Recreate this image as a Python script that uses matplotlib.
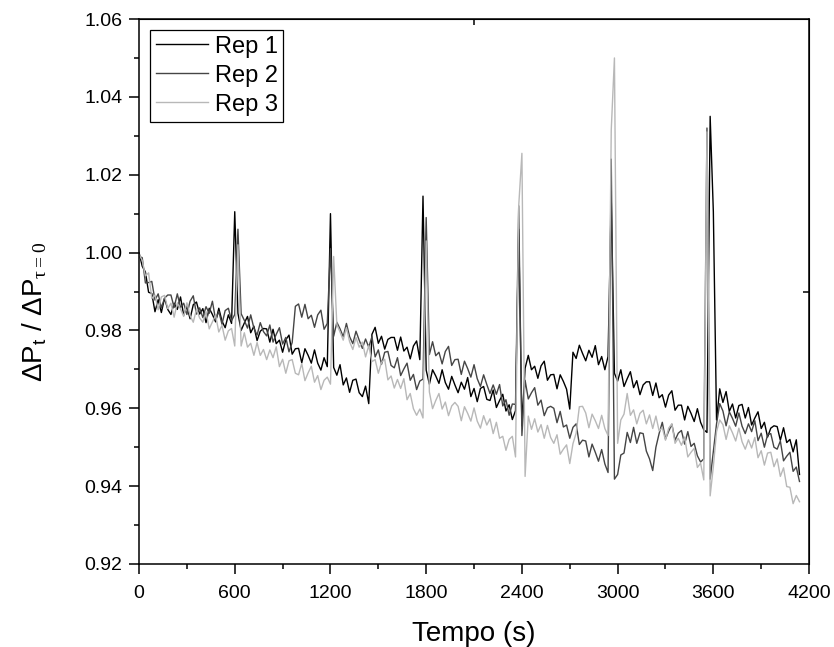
import numpy as np
import matplotlib
matplotlib.use('Agg')
import matplotlib.pyplot as plt

plt.rcParams['font.family'] = ['Liberation Sans', 'DejaVu Sans']
plt.rcParams['mathtext.fontset'] = 'custom'
plt.rcParams['mathtext.rm'] = 'Liberation Sans'
plt.rcParams['mathtext.it'] = 'Liberation Sans:italic'
plt.rcParams['mathtext.sf'] = 'Liberation Serif'

# time axis (s), one reading every 20 s
tempo = np.arange(0, 4141, 20)

rep1 = [
    1.0000, 0.9965, 0.9950, 0.9898, 0.9895, 0.9848, 0.9879, 0.9846, 0.9883, 0.9854,
    0.9841, 0.9870, 0.9854, 0.9886, 0.9839, 0.9862, 0.9830, 0.9866, 0.9873, 0.9842,
    0.9856, 0.9820, 0.9857, 0.9841, 0.9822, 0.9857, 0.9824, 0.9807, 0.9840, 0.9818,
    1.0105, 0.9844, 0.9800, 0.9819, 0.9836, 0.9794, 0.9811, 0.9774, 0.9798, 0.9805,
    0.9804, 0.9770, 0.9803, 0.9766, 0.9775, 0.9744, 0.9776, 0.9788, 0.9739, 0.9753,
    0.9754, 0.9717, 0.9753, 0.9736, 0.9716, 0.9750, 0.9716, 0.9698, 0.9730, 0.9707,
    1.0100, 0.9705, 0.9685, 0.9712, 0.9660, 0.9678, 0.9641, 0.9672, 0.9675, 0.9640,
    0.9630, 0.9657, 0.9612, 0.9790, 0.9808, 0.9767, 0.9785, 0.9752, 0.9777, 0.9782,
    0.9782, 0.9749, 0.9783, 0.9747, 0.9757, 0.9727, 0.9760, 0.9773, 0.9725, 1.0145,
    0.9698, 0.9662, 0.9699, 0.9683, 0.9664, 0.9699, 0.9666, 0.9649, 0.9682, 0.9660,
    0.9640, 0.9667, 0.9649, 0.9679, 0.9630, 0.9651, 0.9617, 0.9651, 0.9656, 0.9623,
    0.9620, 0.9647, 0.9602, 0.9620, 0.9636, 0.9593, 0.9609, 0.9571, 0.9594, 1.0060,
    0.9555, 0.9703, 0.9736, 0.9699, 0.9708, 0.9677, 0.9709, 0.9721, 0.9672, 0.9686,
    0.9687, 0.9650, 0.9686, 0.9669, 0.9649, 0.9598, 0.9744, 0.9728, 0.9762, 0.9741,
    0.9722, 0.9749, 0.9731, 0.9761, 0.9712, 0.9733, 0.9699, 0.9733, 1.0140, 0.9690,
    0.9670, 0.9699, 0.9656, 0.9676, 0.9694, 0.9653, 0.9671, 0.9635, 0.9660, 0.9668,
    0.9668, 0.9633, 0.9665, 0.9627, 0.9635, 0.9603, 0.9634, 0.9645, 0.9595, 0.9608,
    0.9608, 0.9570, 0.9605, 0.9587, 0.9566, 0.9599, 0.9564, 0.9545, 0.9538, 1.0350,
    1.0105, 0.9570, 0.9650, 0.9615, 0.9643, 0.9592, 0.9611, 0.9575, 0.9607, 0.9610,
    0.9575, 0.9602, 0.9557, 0.9575, 0.9591, 0.9548, 0.9564, 0.9526, 0.9549, 0.9555,
    0.9553, 0.9518, 0.9550, 0.9512, 0.9520, 0.9488, 0.9519, 0.9430]

rep2 = [
    0.9990, 0.9987, 0.9922, 0.9923, 0.9926, 0.9878, 0.9894, 0.9858, 0.9883, 0.9891,
    0.9891, 0.9859, 0.9894, 0.9859, 0.9870, 0.9841, 0.9875, 0.9889, 0.9842, 0.9858,
    0.9833, 0.9861, 0.9844, 0.9875, 0.9827, 0.9849, 0.9816, 0.9851, 0.9857, 0.9825,
    0.9841, 1.0060, 0.9843, 0.9826, 0.9806, 0.9840, 0.9806, 0.9788, 0.9820, 0.9797,
    0.9786, 0.9814, 0.9770, 0.9790, 0.9807, 0.9765, 0.9782, 0.9745, 0.9769, 0.9862,
    0.9868, 0.9834, 0.9867, 0.9830, 0.9839, 0.9808, 0.9840, 0.9852, 0.9803, 0.9818,
    1.0010, 0.9785, 0.9821, 0.9804, 0.9784, 0.9818, 0.9784, 0.9766, 0.9798, 0.9775,
    0.9754, 0.9778, 0.9757, 0.9784, 0.9732, 0.9750, 0.9713, 0.9744, 0.9746, 0.9710,
    0.9704, 0.9730, 0.9684, 0.9701, 0.9716, 0.9672, 0.9687, 0.9648, 0.9670, 0.9675,
    1.0090, 0.9738, 0.9771, 0.9735, 0.9744, 0.9714, 0.9746, 0.9759, 0.9710, 0.9725,
    0.9726, 0.9687, 0.9721, 0.9702, 0.9680, 0.9712, 0.9676, 0.9656, 0.9686, 0.9661,
    0.9638, 0.9660, 0.9636, 0.9661, 0.9606, 0.9622, 0.9582, 0.9611, 0.9610, 1.0120,
    0.9530, 0.9672, 0.9624, 0.9640, 0.9653, 0.9608, 0.9621, 0.9581, 0.9601, 0.9605,
    0.9600, 0.9563, 0.9592, 0.9552, 0.9557, 0.9523, 0.9551, 0.9560, 0.9507, 0.9518,
    0.9516, 0.9475, 0.9508, 0.9487, 0.9464, 0.9494, 0.9457, 0.9435, 1.0240, 0.9418,
    0.9430, 0.9480, 0.9485, 0.9538, 0.9512, 0.9551, 0.9510, 0.9537, 0.9535, 0.9490,
    0.9470, 0.9440, 0.9500, 0.9535, 0.9564, 0.9521, 0.9541, 0.9559, 0.9518, 0.9536,
    0.9543, 0.9508, 0.9540, 0.9502, 0.9510, 0.9478, 0.9462, 0.9470, 1.0320, 0.9418,
    0.9490, 0.9560, 0.9612, 0.9593, 0.9555, 0.9591, 0.9574, 0.9554, 0.9588, 0.9554,
    0.9535, 0.9560, 0.9540, 0.9568, 0.9517, 0.9536, 0.9500, 0.9532, 0.9535, 0.9500,
    0.9495, 0.9516, 0.9465, 0.9477, 0.9487, 0.9438, 0.9449, 0.9412]

rep3 = [
    0.9995, 0.9980, 0.9940, 0.9948, 0.9882, 0.9891, 0.9853, 0.9886, 0.9890, 0.9856,
    0.9870, 0.9834, 0.9871, 0.9855, 0.9836, 0.9871, 0.9838, 0.9821, 0.9854, 0.9832,
    0.9821, 0.9848, 0.9804, 0.9822, 0.9839, 0.9796, 0.9813, 0.9775, 0.9799, 0.9805,
    0.9760, 1.0020, 0.9760, 0.9794, 0.9757, 0.9767, 0.9736, 0.9769, 0.9736, 0.9751,
    0.9725, 0.9750, 0.9730, 0.9758, 0.9707, 0.9726, 0.9690, 0.9722, 0.9725, 0.9690,
    0.9686, 0.9715, 0.9671, 0.9691, 0.9708, 0.9667, 0.9684, 0.9648, 0.9672, 0.9680,
    0.9662, 0.9990, 0.9815, 0.9796, 0.9775, 0.9807, 0.9771, 0.9751, 0.9782, 0.9757,
    0.9770, 0.9732, 0.9761, 0.9720, 0.9725, 0.9690, 0.9718, 0.9726, 0.9673, 0.9683,
    0.9652, 0.9674, 0.9651, 0.9676, 0.9622, 0.9638, 0.9599, 0.9582, 0.9598, 0.9575,
    1.0030, 0.9642, 0.9599, 0.9620, 0.9638, 0.9598, 0.9616, 0.9581, 0.9606, 0.9615,
    0.9605, 0.9568, 0.9604, 0.9587, 0.9567, 0.9601, 0.9567, 0.9549, 0.9581, 0.9557,
    0.9573, 0.9535, 0.9564, 0.9523, 0.9528, 0.9492, 0.9520, 0.9528, 0.9475, 1.0120,
    1.0255, 0.9425, 0.9580, 0.9546, 0.9573, 0.9539, 0.9558, 0.9523, 0.9556, 0.9525,
    0.9510, 0.9532, 0.9482, 0.9495, 0.9506, 0.9458, 0.9509, 0.9536, 0.9604, 0.9605,
    0.9588, 0.9550, 0.9585, 0.9568, 0.9548, 0.9582, 0.9548, 0.9530, 1.0315, 1.0500,
    0.9510, 0.9570, 0.9585, 0.9638, 0.9582, 0.9596, 0.9560, 0.9587, 0.9595, 0.9560,
    0.9583, 0.9548, 0.9580, 0.9542, 0.9550, 0.9518, 0.9549, 0.9560, 0.9510, 0.9523,
    0.9505, 0.9526, 0.9475, 0.9487, 0.9497, 0.9448, 0.9459, 0.9416, 1.0310, 0.9375,
    0.9450, 0.9540, 0.9570, 0.9558, 0.9520, 0.9555, 0.9537, 0.9516, 0.9549, 0.9514,
    0.9495, 0.9519, 0.9498, 0.9525, 0.9473, 0.9491, 0.9454, 0.9485, 0.9487, 0.9450,
    0.9470, 0.9425, 0.9447, 0.9399, 0.9397, 0.9355, 0.9376, 0.9360]

series_names = ['Rep 1', 'Rep 2', 'Rep 3']
x_ticks = [0, 600, 1200, 1800, 2400, 3000, 3600, 4200]
y_ticks = [0.92, 0.94, 0.96, 0.98, 1.00, 1.02, 1.04, 1.06]

fig = plt.figure(figsize=(8.34, 6.47), dpi=100)
ax = fig.add_axes([0.1667, 0.1283, 0.8034, 0.8423])

ax.plot(tempo, rep1, color='#000000', lw=1.0, label=series_names[0])
ax.plot(tempo, rep2, color='#454545', lw=1.0, label=series_names[1])
ax.plot(tempo, rep3, color='#b8b8b8', lw=1.0, label=series_names[2])

ax.set_xlim(0, 4200)
ax.set_ylim(0.92, 1.06)
ax.set_xticks(x_ticks)
ax.set_xticks(np.arange(300, 4200, 600), minor=True)
ax.set_yticks(y_ticks)
ax.set_yticks(np.arange(0.93, 1.06, 0.02), minor=True)
ax.set_yticklabels(['%.2f' % v for v in y_ticks])

ax.tick_params(which='major', direction='out', length=7, width=1.1, labelsize=14)
ax.tick_params(which='minor', direction='out', length=3.5, width=1.1)
ax.tick_params(axis='x', which='major', pad=8)
ax.tick_params(axis='y', which='major', pad=5)
ax.tick_params(top=False, right=False)
for s in ax.spines.values():
    s.set_linewidth(1.1)

# single inner ticks on top and right, like the original
top = ax.secondary_xaxis('top')
top.set_xticks([2100])
top.set_xticklabels([])
top.tick_params(direction='in', length=4, width=1.1)
right = ax.secondary_yaxis('right')
right.set_yticks([0.99])
right.set_yticklabels([])
right.tick_params(direction='in', length=4, width=1.1)

ax.set_xlabel('Tempo (s)', fontsize=20, labelpad=14)
ax.set_ylabel(r'ΔP$_\mathrm{t}$ / ΔP$_{\mathsf{\tau=0}}$', fontsize=20)
ax.yaxis.set_label_coords(-0.135, 0.462)

leg = ax.legend(loc='upper left', fontsize=17, frameon=True, fancybox=False,
                framealpha=1, edgecolor='black', borderpad=0.25,
                handlelength=2.2, handletextpad=0.3, labelspacing=0.3,
                borderaxespad=0.45)
leg.get_frame().set_linewidth(0.9)

fig.savefig('out.png', dpi=100)
